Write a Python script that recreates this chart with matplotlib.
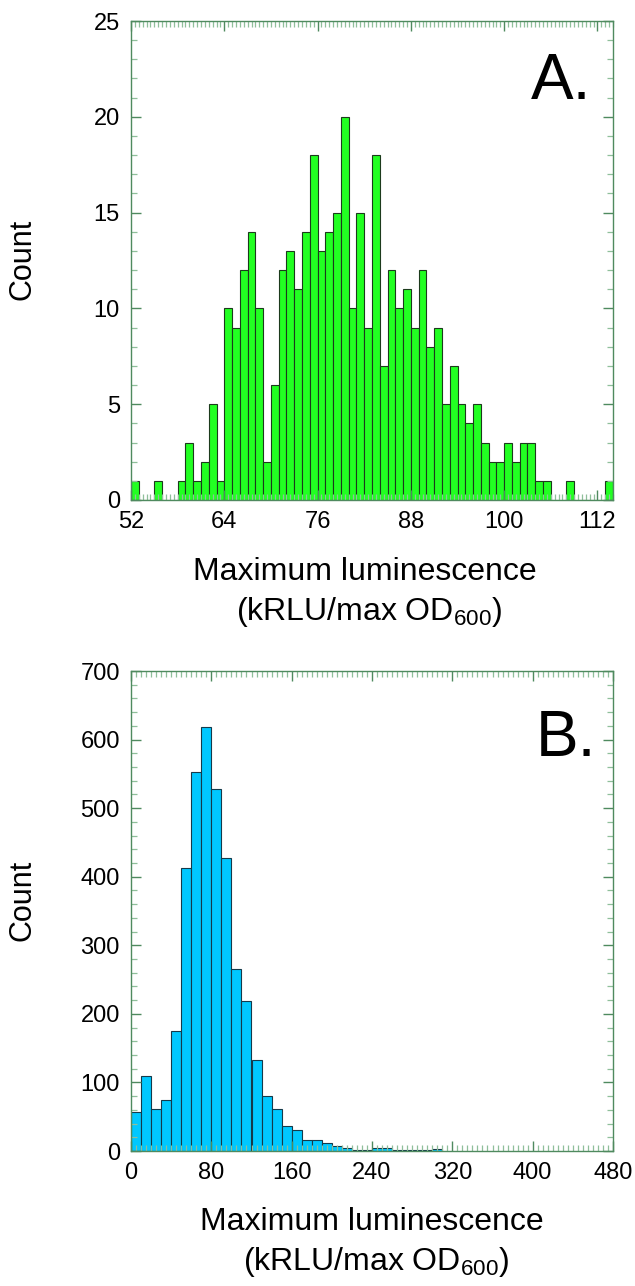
import numpy as np
import matplotlib.pyplot as plt
from matplotlib.ticker import MultipleLocator

plt.rcParams['font.family'] = ['Liberation Sans', 'DejaVu Sans']
plt.rcParams['mathtext.fontset'] = 'custom'
plt.rcParams['mathtext.rm'] = 'Liberation Sans'
plt.rcParams['mathtext.default'] = 'regular'

# panel A: counts per 1-unit bin, starting at 52
a_start = 52
a_counts = [1, 0, 0, 1, 0, 0, 1, 3, 1, 2,
            5, 1, 10, 9, 12, 14, 10, 2, 6, 12,
            13, 11, 14, 18, 13, 14, 15, 20, 10, 15,
            9, 18, 7, 12, 10, 11, 9, 12, 8, 9,
            5, 7, 5, 4, 5, 3, 2, 2, 3, 2,
            3, 3, 1, 1, 0, 0, 1, 0, 0, 0,
            0, 1]
a_ticks = [52, 64, 76, 88, 100, 112]

# panel B: counts per 10-unit bin, starting at 0
b_width = 10
b_counts = [57, 109, 61, 75, 175, 413, 552, 619, 528, 427,
            265, 219, 132, 80, 61, 36, 31, 16, 16, 12,
            7, 5, 2, 1, 4, 4, 2, 2, 2, 2, 3]
b_ticks = [0, 80, 160, 240, 320, 400, 480]

spine_col = '#4f8a5f'
minor_col = '#8fbf9a'
line1 = 'Maximum luminescence'
line2 = '(kRLU/max OD$_{600}$)'
W, H = 635, 1286


def style_axis(ax, xminor, ymajor, yminor):
    for s in ax.spines.values():
        s.set_color(spine_col)
        s.set_linewidth(1.0)
    ax.xaxis.set_minor_locator(MultipleLocator(xminor))
    ax.yaxis.set_major_locator(MultipleLocator(ymajor))
    ax.yaxis.set_minor_locator(MultipleLocator(yminor))
    ax.tick_params(which='both', direction='in', top=True, right=True,
                   labelsize=17, labelcolor='black', pad=8)
    ax.tick_params(which='major', length=7, width=1.0, color=spine_col)
    ax.tick_params(which='minor', length=4, width=0.9, color=minor_col)


def put_xlabel(cx, base1, base2):
    fig.text(cx / W, 1 - base1 / H, line1, fontsize=23, ha='center',
             va='baseline')
    fig.text(cx / W + 0.006, 1 - base2 / H, line2, fontsize=23,
             ha='center', va='baseline')


fig = plt.figure(figsize=(W / 100, H / 100), dpi=100)

# ---- panel A
ax1 = fig.add_axes([131 / W, 1 - 500 / H, 482 / W, 479 / H])
a_x = a_start + np.arange(len(a_counts))
ax1.bar(a_x, a_counts, width=1, align='edge', color='#22ff22',
        edgecolor='#1c3a1c', linewidth=0.8)
ax1.set_xlim(52, 114)
ax1.set_ylim(0, 25)
ax1.set_xticks(a_ticks)
style_axis(ax1, 0.5, 5, 1)
ax1.text(0.955, 0.935, 'A.', transform=ax1.transAxes, fontsize=46,
         ha='right', va='top')
fig.text(22 / W, 1 - 259 / H, 'Count', fontsize=22, rotation=90,
         ha='center', va='center')
put_xlabel(365, 580, 620)

# ---- panel B
ax2 = fig.add_axes([131 / W, 1 - 1151 / H, 482 / W, 480 / H])
b_x = np.arange(len(b_counts)) * b_width
ax2.bar(b_x, b_counts, width=b_width, align='edge', color='#00c8ff',
        edgecolor='#153a4a', linewidth=0.8)
ax2.set_xlim(0, 480)
ax2.set_ylim(0, 700)
ax2.set_xticks(b_ticks)
style_axis(ax2, 5, 100, 20)
ax2.text(0.965, 0.92, 'B.', transform=ax2.transAxes, fontsize=46,
         ha='right', va='top')
fig.text(22 / W, 1 - 900 / H, 'Count', fontsize=22, rotation=90,
         ha='center', va='center')
put_xlabel(372, 1230, 1270)

fig.savefig('out.png', dpi=100)
